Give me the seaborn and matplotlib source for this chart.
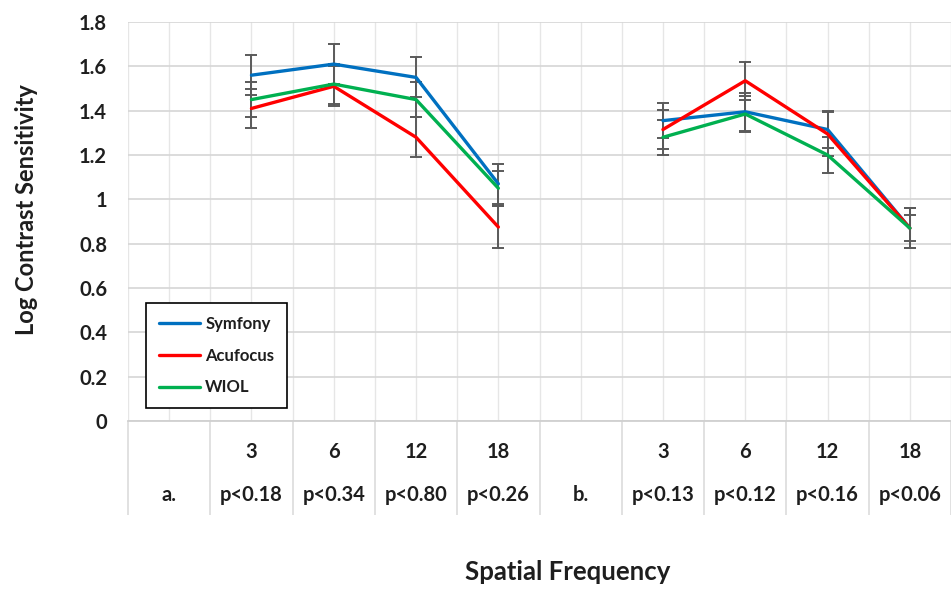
import matplotlib
matplotlib.use("Agg")
import matplotlib.pyplot as plt
import seaborn as sns
import pandas as pd
import numpy as np
from matplotlib.lines import Line2D

# ---------------- data ----------------
series_names = ["Symfony", "Acufocus", "WIOL"]
series_colors = ["#0070C0", "#FF0000", "#00B050"]

freq_labels = ["", "3", "6", "12", "18", "", "3", "6", "12", "18"]
group_labels = ["a.", "p<0.18", "p<0.34", "p<0.80", "p<0.26",
                "b.", "p<0.13", "p<0.12", "p<0.16", "p<0.06"]

# positions (category index) of the points in panel a and panel b
pos_a = [1, 2, 3, 4]
pos_b = [6, 7, 8, 9]

symfony_a = [1.56, 1.61, 1.55, 1.07]
acufocus_a = [1.41, 1.51, 1.28, 0.875]
wiol_a = [1.45, 1.52, 1.45, 1.05]

symfony_b = [1.355, 1.395, 1.315, 0.87]
acufocus_b = [1.315, 1.535, 1.295, 0.87]
wiol_b = [1.28, 1.385, 1.20, 0.87]

symfony_err_a = [0.09, 0.09, 0.09, 0.09]
acufocus_err_a = [0.09, 0.09, 0.09, 0.095]
wiol_err_a = [0.08, 0.09, 0.08, 0.08]

symfony_err_b = [0.08, 0.085, 0.085, 0.09]
acufocus_err_b = [0.09, 0.085, 0.10, 0.09]
wiol_err_b = [0.08, 0.08, 0.08, 0.06]

yticks = [0, 0.2, 0.4, 0.6, 0.8, 1, 1.2, 1.4, 1.6, 1.8]
ytick_labels = ["0", "0.2", "0.4", "0.6", "0.8", "1", "1.2", "1.4", "1.6", "1.8"]

# ---------------- long table ----------------
rows = []
vals = {"Symfony": (symfony_a, symfony_b, symfony_err_a, symfony_err_b),
        "Acufocus": (acufocus_a, acufocus_b, acufocus_err_a, acufocus_err_b),
        "WIOL": (wiol_a, wiol_b, wiol_err_a, wiol_err_b)}
for name in series_names:
    va, vb, ea, eb = vals[name]
    for p, v, e in zip(pos_a, va, ea):
        rows.append(dict(series=name, group="a", x=p, y=v, err=e))
    for p, v, e in zip(pos_b, vb, eb):
        rows.append(dict(series=name, group="b", x=p, y=v, err=e))
df = pd.DataFrame(rows)

# ---------------- figure ----------------
sns.set_theme(style="white")
plt.rcParams["font.family"] = ["Lato", "DejaVu Sans"]
plt.rcParams["font.weight"] = "bold"
TXT = "#1E1E1E"

W, H = 951, 589
fig = plt.figure(figsize=(W / 100, H / 100), dpi=100)
ax_left, ax_right_px, ax_top, ax_bottom = 128, 951, 22, 421
cat_w = 83.3
ax = fig.add_axes([ax_left / W, 1 - ax_bottom / H,
                   (ax_right_px - ax_left) / W, (ax_bottom - ax_top) / H])

# error bars first (under lines)
for name in series_names:
    d = df[df.series == name]
    ax.errorbar(d.x, d.y, yerr=d.err, fmt="none", ecolor="#5A5A5A",
                elinewidth=1.4, capsize=4.5, capthick=1.4, zorder=2)

sns.lineplot(data=df, x="x", y="y", hue="series", units="group",
             estimator=None, palette=dict(zip(series_names, series_colors)),
             hue_order=series_names, linewidth=2.4, ax=ax, zorder=3,
             legend=False)

xmax = -0.5 + (ax_right_px - ax_left) / cat_w
ax.set_xlim(-0.5, xmax)
ax.set_ylim(0, 1.8)

ax.set_yticks(yticks)
ax.set_yticklabels(ytick_labels, fontsize=14.5, fontweight="bold", color=TXT)
ax.set_xticks(np.arange(0, 10))
ax.set_xticks(np.arange(-0.5, 10, 1.0), minor=True)
ax.set_xticklabels([])
ax.tick_params(axis="both", which="both", length=0)
ax.tick_params(axis="y", pad=15)

ax.grid(True, axis="y", color="#D6D6D6", linewidth=1.2)
ax.grid(True, axis="x", which="both", color="#E6E6E6", linewidth=1.0)
ax.set_axisbelow(True)
for s in ["top", "right", "left"]:
    ax.spines[s].set_visible(False)
ax.spines["bottom"].set_color("#D0D0D0")
ax.spines["bottom"].set_linewidth(1.3)

axw = ax_right_px - ax_left
axh = ax_bottom - ax_top
ax.set_xlabel("")
ax.set_ylabel("Log Contrast Sensitivity", fontsize=17, fontweight="bold",
              color=TXT)
ax.yaxis.set_label_coords((27 - ax_left) / axw, (ax_bottom - 210) / axh)
ax.yaxis.label.set_va("center")

# category label area
trans = ax.get_xaxis_transform()
sep_bottom = -(515 - ax_bottom) / axh
ax.vlines(np.arange(-0.5, 10, 1.0), sep_bottom, 0, transform=trans,
          colors="#D9D9D9", linewidth=1.1, clip_on=False)
row1_y = -(452 - ax_bottom) / axh
row2_y = -(495 - ax_bottom) / axh
for i, (f, g) in enumerate(zip(freq_labels, group_labels)):
    ax.text(i, row1_y, f, transform=trans, ha="center", va="center",
            fontsize=14.5, fontweight="bold", color=TXT)
    ax.text(i, row2_y, g, transform=trans, ha="center", va="center",
            fontsize=14.5, fontweight="bold", color=TXT)

fig.text(568 / W, 1 - 572 / H, "Spatial Frequency", ha="center", va="center",
         fontsize=18.5, fontweight="bold", color=TXT)

# legend
handles = [Line2D([0], [0], color=c, lw=2.4) for c in series_colors]
leg = ax.legend(handles, series_names, loc="lower left",
                bbox_to_anchor=((146 - ax_left) / axw, (ax_bottom - 408) / axh),
                frameon=True, fancybox=False, framealpha=1,
                edgecolor="black", prop=dict(family="Lato", weight="bold", size=12),
                handlelength=2.5, handletextpad=0.3, labelspacing=0.95,
                borderpad=0.75, borderaxespad=0)
leg.get_frame().set_linewidth(1.2)
leg.set_zorder(5)
for t in leg.get_texts():
    t.set_color(TXT)

fig.savefig("out.png", dpi=100)
